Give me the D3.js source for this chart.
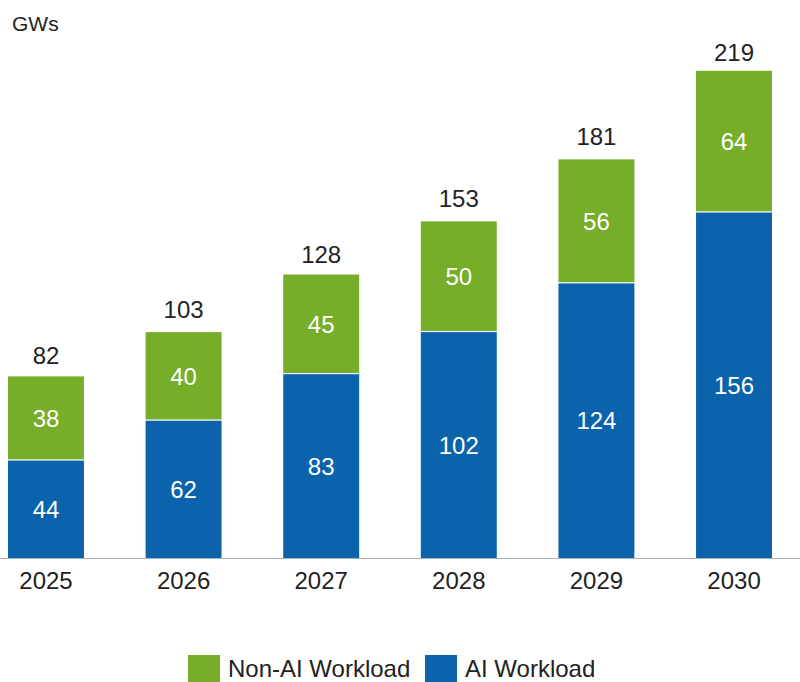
<!DOCTYPE html>
<html><head><meta charset="utf-8">
<script src="https://cdn.jsdelivr.net/npm/d3@7"></script>
<style>body{margin:0;background:#fff}svg{display:block}</style>
</head><body>
<svg id="chart" width="800" height="682"></svg>
<script>
const years = ["2025","2026","2027","2028","2029","2030"];
const aiWorkload = [44, 62, 83, 102, 124, 156];
const nonAiWorkload = [38, 40, 45, 50, 56, 64];
const totals = [82, 103, 128, 153, 181, 219];
const seriesNames = ["Non-AI Workload", "AI Workload"];
const colors = {ai: "#0b63ac", nonai: "#76ad29"};
const font = "'Liberation Sans', Arial, sans-serif";

const svg = d3.select("#chart");
const x = d3.scaleBand().domain(years).range([8, 772]).paddingInner(0.448).paddingOuter(0);
const y = d3.scaleLinear().domain([0, 219]).range([558, 73]);

const data = years.map((yr, i) => ({yr, ai: aiWorkload[i], non: nonAiWorkload[i], total: totals[i]}));

// baseline
svg.append("line").attr("x1", 0).attr("x2", 800).attr("y1", y(0) + 0.5).attr("y2", y(0) + 0.5)
  .attr("stroke", "#a9b1b9").attr("stroke-width", 1.2);

const g = svg.selectAll("g.bar").data(data).join("g").attr("class", "bar");
g.append("rect").attr("x", d => x(d.yr)).attr("width", x.bandwidth())
  .attr("y", d => y(d.ai)).attr("height", d => y(0) - y(d.ai)).attr("fill", colors.ai);
g.append("rect").attr("x", d => x(d.yr)).attr("width", x.bandwidth())
  .attr("y", d => y(d.ai + d.non)).attr("height", d => y(d.ai) - y(d.ai + d.non) - 1.2).attr("fill", colors.nonai);

g.append("text").attr("x", d => x(d.yr) + x.bandwidth()/2).attr("y", d => (y(0) + y(d.ai))/2)
  .attr("dy", "0.36em").attr("text-anchor", "middle").attr("fill", "#fff")
  .style("font-family", font).style("font-size", "24px").text(d => d.ai);
g.append("text").attr("x", d => x(d.yr) + x.bandwidth()/2).attr("y", d => (y(d.ai) + y(d.ai + d.non))/2)
  .attr("dy", "0.36em").attr("text-anchor", "middle").attr("fill", "#fff")
  .style("font-family", font).style("font-size", "24px").text(d => d.non);
g.append("text").attr("x", d => x(d.yr) + x.bandwidth()/2).attr("y", d => y(d.total) - 12)
  .attr("text-anchor", "middle").attr("fill", "#222")
  .style("font-family", font).style("font-size", "24px").text(d => d.total);

// x axis labels
const xAxis = d3.axisBottom(x).tickSize(0).tickPadding(14);
const ax = svg.append("g").attr("transform", `translate(0,${y(0)})`).call(xAxis);
ax.select(".domain").remove();
ax.selectAll("text").style("font-family", font).style("font-size", "24px").attr("fill", "#222");

// unit label
svg.append("text").attr("x", 12).attr("y", 31).style("font-family", font).style("font-size", "21px")
  .attr("fill", "#222").text("GWs");

// legend
const legend = [
  {name: seriesNames[0], color: colors.nonai, x: 188},
  {name: seriesNames[1], color: colors.ai, x: 425}
];
const lg = svg.selectAll("g.leg").data(legend).join("g").attr("class", "leg")
  .attr("transform", d => `translate(${d.x},655)`);
lg.append("rect").attr("width", 32).attr("height", 27).attr("fill", d => d.color);
lg.append("text").attr("x", 40).attr("y", 22).style("font-family", font).style("font-size", "24px")
  .attr("fill", "#222").text(d => d.name);
</script>
</body></html>
